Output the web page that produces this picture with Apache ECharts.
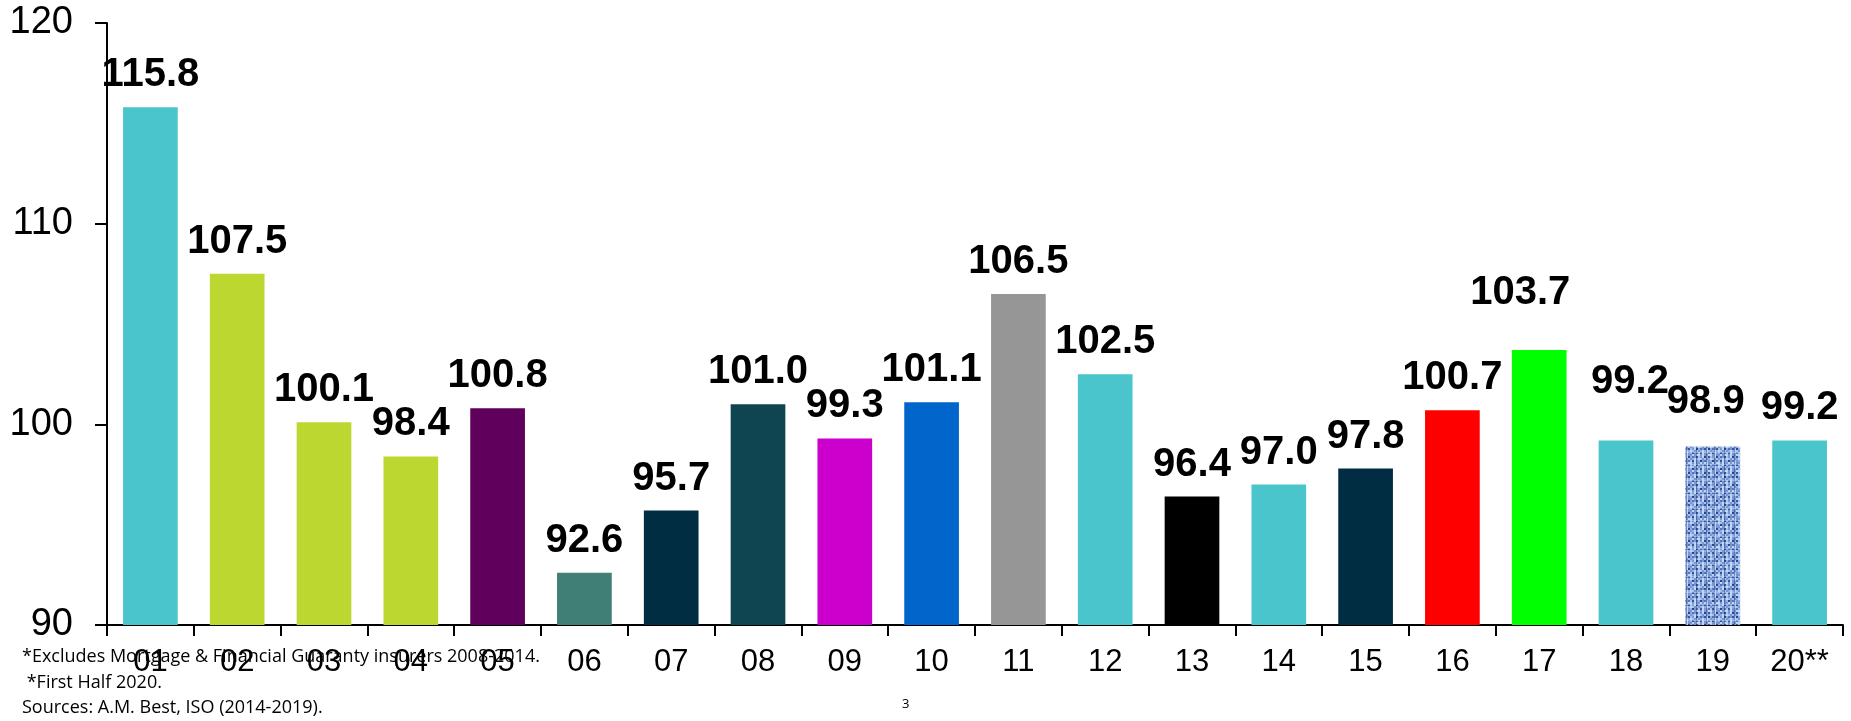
<!DOCTYPE html>
<html>
<head>
<meta charset="utf-8">
<style>
  html, body { margin: 0; padding: 0; background: #fff; }
  #chart { width: 1851px; height: 721px; }
</style>
<script src="https://cdn.jsdelivr.net/npm/echarts@6/dist/echarts.min.js"></script>
</head>
<body>
<div id="chart"></div>
<script>
// Combined ratio by year, 2001 to first half 2020
const years = ['01', '02', '03', '04', '05', '06', '07', '08', '09', '10',
               '11', '12', '13', '14', '15', '16', '17', '18', '19', '20**'];
const combinedRatio = [115.8, 107.5, 100.1, 98.4, 100.8, 92.6, 95.7, 101.0, 99.3, 101.1,
                       106.5, 102.5, 96.4, 97.0, 97.8, 100.7, 103.7, 99.2, 98.9, 99.2];
const yTicks = [90, 100, 110, 120];

const footnotes = [
  '*Excludes Mortgage & Financial Guaranty insurers 2008-2014.',
  ' *First Half 2020.',
  'Sources: A.M. Best, ISO (2014-2019).'
];

// Fill colour per bar ('denim' = woven texture)
const barColors = ['#4AC5CB', '#BDD731', '#BDD731', '#BDD731', '#5E005C', '#3F7F75', '#012D42',
                   '#0F4551', '#CC00CC', '#0066CC', '#969696', '#4AC5CB', '#000000', '#4AC5CB',
                   '#012D42', '#FF0000', '#00FF00', '#4AC5CB', 'denim', '#4AC5CB'];

// A few value labels sit away from the default spot: [dx, dy] in pixels
const labelNudge = { 16: [-19, -25], 17: [4, -26], 18: [-7, -12] };

// Woven tile used as a repeating fill (cells drawn 2px wide for a coarser weave)
function makeDenim() {
  const n = 14, s = 2;
  const c = document.createElement('canvas');
  c.width = n * s; c.height = n * s;
  const g = c.getContext('2d');
  g.fillStyle = '#7896D4';
  g.fillRect(0, 0, n * s, n * s);
  const shades = ['#294786', '#A6C0F0', '#5574B6', '#C2D5F7', '#36569A', '#8FADE6'];
  for (let y = 0; y < n; y++) {
    for (let x = 0; x < n; x++) {
      const k = (x * 5 + y * 9 + ((x * y) % 4)) % 8;
      if (k < shades.length) {
        g.fillStyle = shades[k];
        g.fillRect(x * s, y * s, s, s);
      }
    }
  }
  g.fillStyle = 'rgba(25,48,105,0.45)';
  for (let x = 3; x < n; x += 5) g.fillRect(x * s, 0, 1, n * s);
  g.fillStyle = 'rgba(205,222,250,0.5)';
  for (let y = 2; y < n; y += 6) g.fillRect(0, y * s, n * s, 1);
  return c;
}
const denim = { image: makeDenim(), repeat: 'repeat' };

const seriesData = combinedRatio.map((v, i) => {
  const item = { value: v, itemStyle: { color: barColors[i] === 'denim' ? denim : barColors[i] } };
  if (labelNudge[i]) item.label = { offset: labelNudge[i] };
  return item;
});

const chart = echarts.init(document.getElementById('chart'), null, { renderer: 'canvas' });

const footY = [661, 687, 712];
chart.setOption({
  animation: false,
  backgroundColor: '#ffffff',
  grid: { left: 107, right: 8, top: 23, bottom: 96, containLabel: false },
  xAxis: {
    type: 'category',
    data: years,
    boundaryGap: true,
    axisLine: { lineStyle: { color: '#000', width: 2 } },
    axisTick: { show: true, length: 11, alignWithLabel: false, lineStyle: { color: '#000', width: 2 } },
    axisLabel: { color: '#000', fontFamily: 'Liberation Sans, Arial, sans-serif', fontSize: 31, margin: 22 }
  },
  yAxis: {
    type: 'value',
    min: yTicks[0],
    max: yTicks[yTicks.length - 1],
    interval: yTicks[1] - yTicks[0],
    splitLine: { show: false },
    axisLine: { show: true, lineStyle: { color: '#000', width: 2 } },
    axisTick: { show: true, length: 12, lineStyle: { color: '#000', width: 2 } },
    axisLabel: { color: '#000', fontFamily: 'Liberation Sans, Arial, sans-serif', fontSize: 38, margin: 34 }
  },
  series: [{
    type: 'bar',
    data: seriesData,
    barWidth: '63%',
    label: {
      show: true,
      position: 'top',
      distance: 12,
      color: '#000',
      fontFamily: 'Liberation Sans, Arial, sans-serif',
      fontWeight: 'bold',
      fontSize: 40,
      formatter: p => p.value.toFixed(1)
    }
  }],
  graphic: [
    ...footnotes.map((t, i) => ({
      type: 'text',
      left: 22,
      top: footY[i] - 13,
      style: { text: t, fill: '#000', font: '18px "Open Sans", "Noto Sans", sans-serif' }
    })),
    {
      type: 'text',
      left: 902,
      top: 698,
      style: { text: '3', fill: '#000', font: '13px "Open Sans", "Noto Sans", sans-serif' }
    }
  ]
});
</script>
</body>
</html>
